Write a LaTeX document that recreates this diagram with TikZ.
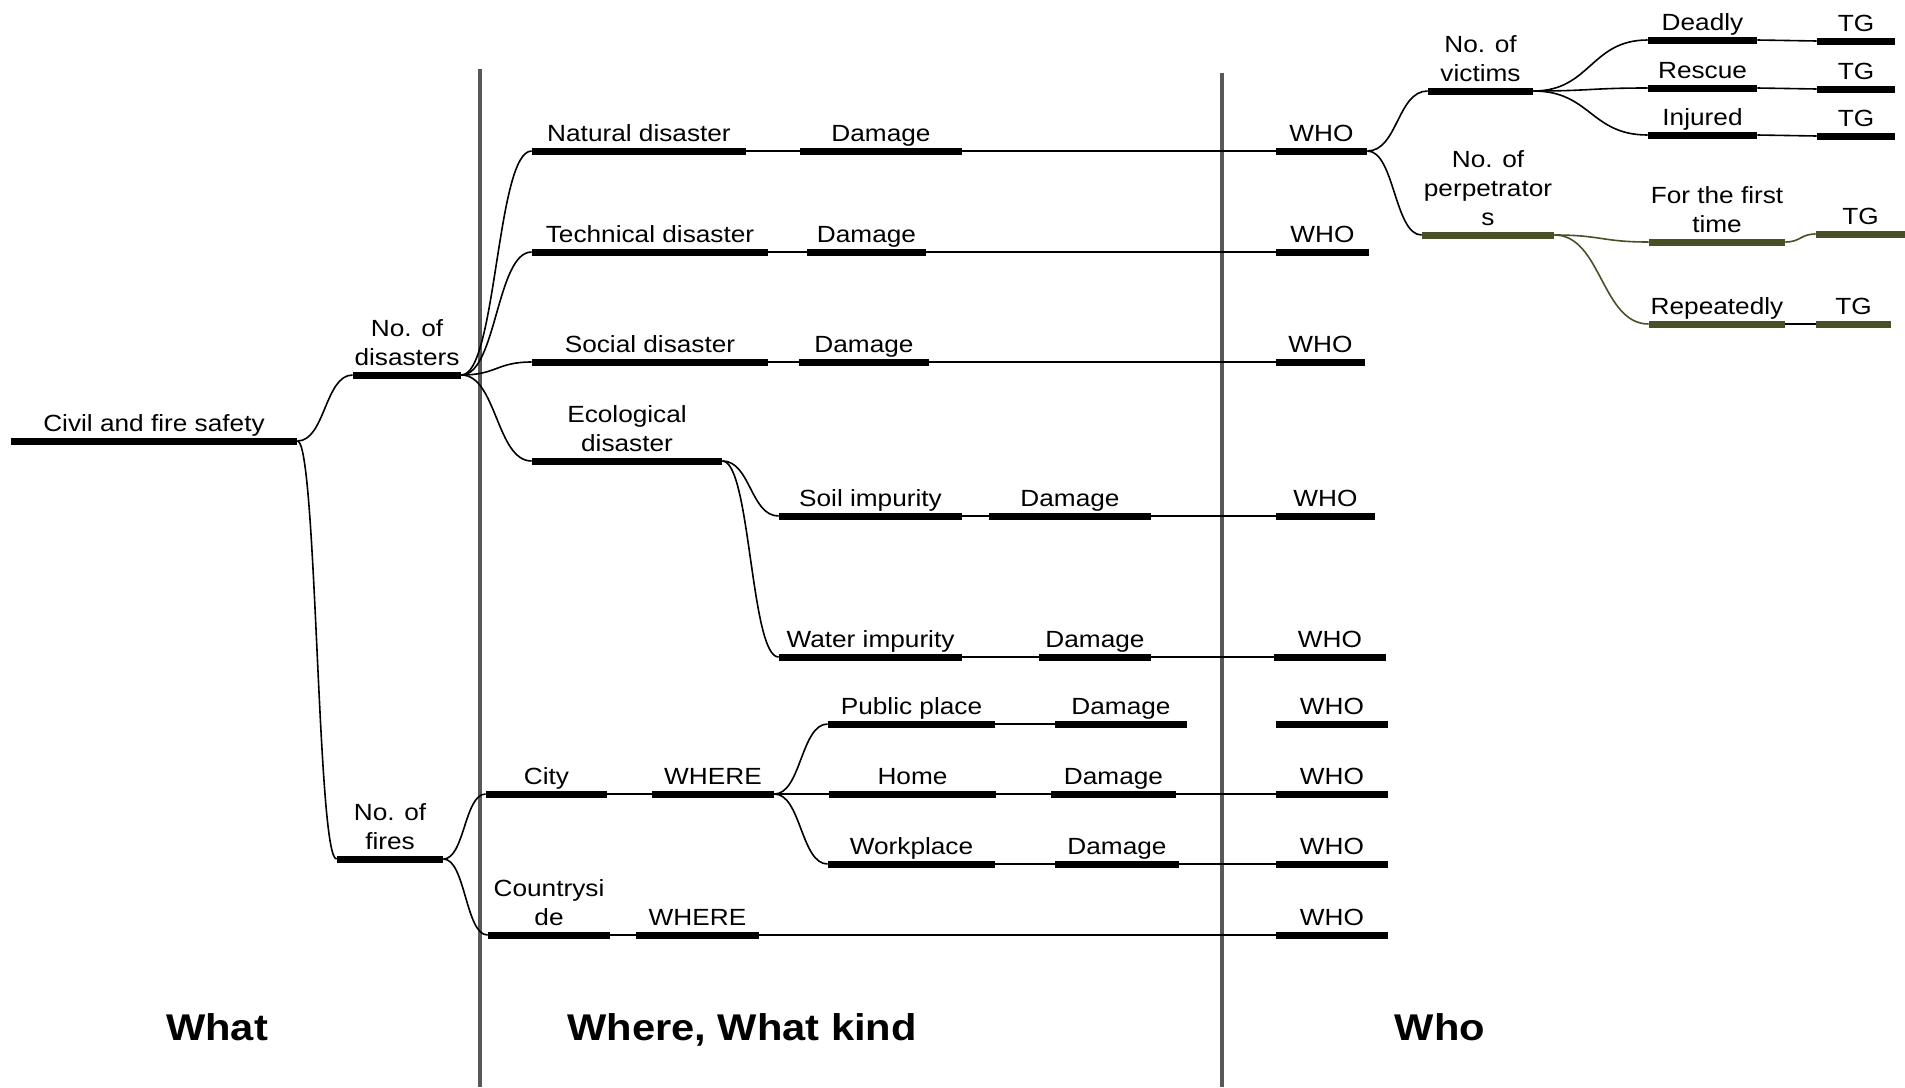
\documentclass[tikz,border=0pt]{standalone}
\usepackage{fontspec}
\setmainfont{Liberation Sans}[FakeStretch=1.12]
\usepackage{tikz}
\usetikzlibrary{calc}
\definecolor{olivebar}{RGB}{73,80,38}
\definecolor{sepgray}{RGB}{88,88,88}

\begin{document}
\begin{tikzpicture}[x=0.5pt, y=-0.5pt,
        font=\fontsize{11.7}{14.5}\selectfont,
        bar/.style={fill=black, inner sep=0pt, minimum height=3.5pt},
        obar/.style={bar, fill=olivebar},
        every label/.style={inner sep=0pt, text depth=0pt, align=center, yshift=2.5pt},
        link/.style={line width=0.8pt},
        branch/.style={link, to path={let \p1=(\tikztostart), \p2=(\tikztotarget) in
            .. controls ({(\x1+\x2)/2},\y1) and ({(\x1+\x2)/2},\y2) .. (\tikztotarget)}},
        sep/.style={line width=1.8pt, sepgray},
        head/.style={font=\fontsize{18.6}{22}\selectfont\bfseries, anchor=base}]
        \useasboundingbox (0,0) rectangle (1905,1087);

        \draw[sep] (480,69) -- (480,1087);
        \draw[sep] (1222,73) -- (1222,1087);

        \node[bar, minimum width=143pt, label=above:Civil and fire safety] (civ) at (154,441) {};
        \node[bar, minimum width=54pt, label=above:{No. of\\disasters}] (dis) at (407,375) {};
        \node[bar, minimum width=53pt, label=above:{No. of\\fires}] (fir) at (390,859) {};

        \node[bar, minimum width=107pt, label=above:Natural disaster] (nat) at (639,151) {};
        \node[bar, minimum width=118pt, label=above:Technical disaster] (tec) at (650,252) {};
        \node[bar, minimum width=118pt, label=above:Social disaster] (soc) at (650,362) {};
        \node[bar, minimum width=95pt, label=above:{Ecological\\disaster}] (eco) at (627,461) {};
        \node[bar, minimum width=91.5pt, label=above:Soil impurity] (soil) at (870.5,516) {};
        \node[bar, minimum width=91.5pt, label=above:Water impurity] (wat) at (870.5,657) {};
        \node[bar, minimum width=60.5pt, label=above:City] (city) at (546.5,794) {};
        \node[bar, minimum width=61pt, label=above:WHERE] (whr1) at (713,794) {};
        \node[bar, minimum width=83.5pt, label=above:Public place] (pub) at (911.5,724) {};
        \node[bar, minimum width=83.5pt, label=above:Home] (home) at (912.5,794) {};
        \node[bar, minimum width=83.5pt, label=above:Workplace] (work) at (911.5,864) {};
        \node[bar, minimum width=61pt, label=above:{Countrysi\\de}] (ctry) at (549,935) {};
        \node[bar, minimum width=61.5pt, label=above:WHERE] (whr2) at (697.5,935) {};

        \node[bar, minimum width=81pt, label=above:Damage] (dmg1) at (881,151) {};
        \node[bar, minimum width=59.5pt, label=above:Damage] (dmg2) at (866.5,252) {};
        \node[bar, minimum width=65pt, label=above:Damage] (dmg3) at (864,362) {};
        \node[bar, minimum width=81pt, label=above:Damage] (dmg4) at (1070,516) {};
        \node[bar, minimum width=56pt, label=above:Damage] (dmg5) at (1095,657) {};
        \node[bar, minimum width=66pt, label=above:Damage] (dmg6) at (1121,724) {};
        \node[bar, minimum width=62.5pt, label=above:Damage] (dmg7) at (1113.5,794) {};
        \node[bar, minimum width=62pt, label=above:Damage] (dmg8) at (1117,864) {};

        \node[bar, minimum width=45.5pt, label=above:WHO] (who1) at (1321.5,151) {};
        \node[bar, minimum width=46.5pt, label=above:WHO] (who2) at (1322.5,252) {};
        \node[bar, minimum width=44.5pt, label=above:WHO] (who3) at (1320.5,362) {};
        \node[bar, minimum width=49.5pt, label=above:WHO] (who4) at (1325.5,516) {};
        \node[bar, minimum width=56pt, label=above:WHO] (who5) at (1330,657) {};
        \node[bar, minimum width=56pt, label=above:WHO] (who6) at (1332,724) {};
        \node[bar, minimum width=56pt, label=above:WHO] (who7) at (1332,794) {};
        \node[bar, minimum width=56pt, label=above:WHO] (who8) at (1332,864) {};
        \node[bar, minimum width=56pt, label=above:WHO] (who9) at (1332,935) {};

        \node[bar, minimum width=52.5pt, label=above:{No. of\\victims}] (vic) at (1480.5,91) {};
        \node[obar, minimum width=66pt, label=above:{No. of\\perpetrator\\s}] (perp) at (1488,235) {};
        \node[bar, minimum width=54.5pt, label=above:Deadly] (dead) at (1702.5,40) {};
        \node[bar, minimum width=54.5pt, label=above:Rescue] (resc) at (1702.5,88) {};
        \node[bar, minimum width=54.5pt, label=above:Injured] (inj) at (1702.5,135) {};
        \node[bar, minimum width=39pt, label=above:TG] (tg1) at (1856,41) {};
        \node[bar, minimum width=39pt, label=above:TG] (tg2) at (1856,89) {};
        \node[bar, minimum width=39pt, label=above:TG] (tg3) at (1856,136) {};
        \node[obar, minimum width=68pt, label=above:{For the first\\time}] (first) at (1717,242) {};
        \node[obar, minimum width=44.5pt, label=above:TG] (tg4) at (1860.5,234) {};
        \node[obar, minimum width=68pt, label=above:Repeatedly] (rep) at (1717,324) {};
        \node[obar, minimum width=37.5pt, label=above:TG] (tg5) at (1853.5,324) {};

        \draw[branch] (civ.east) to (dis.west);
        \draw[branch] (civ.east) to (fir.west);
        \draw[branch] (dis.east) to (nat.west);
        \draw[branch] (dis.east) to (tec.west);
        \draw[branch] (dis.east) to (soc.west);
        \draw[branch] (dis.east) to (eco.west);
        \draw[branch] (eco.east) to (soil.west);
        \draw[branch] (eco.east) to (wat.west);
        \draw[branch] (fir.east) to (city.west);
        \draw[branch] (fir.east) to (ctry.west);
        \draw[branch] (whr1.east) to (pub.west);
        \draw[branch] (whr1.east) to (home.west);
        \draw[branch] (whr1.east) to (work.west);

        \draw[link] (nat.east) -- (dmg1.west) (dmg1.east) -- (who1.west);
        \draw[link] (tec.east) -- (dmg2.west) (dmg2.east) -- (who2.west);
        \draw[link] (soc.east) -- (dmg3.west) (dmg3.east) -- (who3.west);
        \draw[link] (soil.east) -- (dmg4.west) (dmg4.east) -- (who4.west);
        \draw[link] (wat.east) -- (dmg5.west) (dmg5.east) -- (who5.west);
        \draw[link] (city.east) -- (whr1.west);
        \draw[link] (pub.east) -- (dmg6.west);
        \draw[link] (home.east) -- (dmg7.west) (dmg7.east) -- (who7.west);
        \draw[link] (work.east) -- (dmg8.west) (dmg8.east) -- (who8.west);
        \draw[link] (ctry.east) -- (whr2.west) (whr2.east) -- (who9.west);

        \draw[branch] (who1.east) to (vic.west);
        \draw[branch] (who1.east) to (perp.west);
        \draw[branch] (vic.east) to (dead.west);
        \draw[branch] (vic.east) to (resc.west);
        \draw[branch] (vic.east) to (inj.west);
        \draw[branch] (dead.east) to (tg1.west);
        \draw[branch] (resc.east) to (tg2.west);
        \draw[branch] (inj.east) to (tg3.west);
        \draw[branch, olivebar] (perp.east) to (first.west);
        \draw[branch, olivebar] (perp.east) to (rep.west);
        \draw[branch, olivebar] (first.east) to (tg4.west);
        \draw[link] (rep.east) -- (tg5.west);

        \node[head] (what) at (217,1040) {What};
        \node[head] (where) at (742,1040) {Where, What kind};
        \node[head] (who) at (1440,1040) {Who};
        \end{tikzpicture}
\end{document}
